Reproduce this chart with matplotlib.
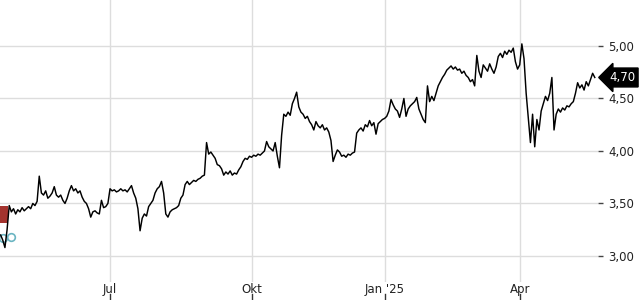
import matplotlib
matplotlib.use("Agg")
import matplotlib.pyplot as plt
from matplotlib.patches import Rectangle
from matplotlib.ticker import FuncFormatter

# daily closes, one list per quarter (trading days)
q2_2024 = [3.20, 3.15, 3.08, 3.25, 3.48, 3.42, 3.45, 3.40, 3.44, 3.42,
           3.46, 3.43, 3.45, 3.47, 3.45, 3.50, 3.48, 3.52, 3.76, 3.60,
           3.58, 3.62, 3.55, 3.57, 3.60, 3.66, 3.58, 3.56, 3.58, 3.53,
           3.50, 3.55, 3.62, 3.67, 3.62, 3.64, 3.60, 3.62, 3.56, 3.52,
           3.50, 3.45, 3.37, 3.42, 3.43, 3.41, 3.40, 3.53, 3.46, 3.47,
           3.50]
q3_2024 = [3.64, 3.62, 3.63, 3.61, 3.62, 3.64, 3.62, 3.63, 3.61, 3.64,
           3.67, 3.60, 3.55, 3.45, 3.24, 3.36, 3.40, 3.38, 3.47, 3.50,
           3.53, 3.60, 3.64, 3.66, 3.71, 3.60, 3.40, 3.37, 3.42, 3.44,
           3.45, 3.46, 3.48, 3.55, 3.58, 3.68, 3.71, 3.68, 3.70, 3.72,
           3.71, 3.73, 3.74, 3.76, 3.77, 4.08, 3.97, 3.99, 3.96, 3.93,
           3.87, 3.86, 3.83, 3.77, 3.80, 3.78, 3.81, 3.77, 3.79, 3.78,
           3.82, 3.85, 3.90, 3.93, 3.92, 3.95]
q4_2024 = [3.94, 3.96, 3.95, 3.97, 3.96, 3.98, 4.00, 4.09, 4.04, 4.02,
           4.00, 4.08, 3.95, 3.84, 4.15, 4.35, 4.33, 4.37, 4.34, 4.45,
           4.50, 4.56, 4.42, 4.37, 4.35, 4.31, 4.33, 4.28, 4.25, 4.20,
           4.28, 4.24, 4.22, 4.25, 4.20, 4.22, 4.18, 4.10, 3.90, 3.96,
           4.01, 3.99, 3.95, 3.96, 3.94, 3.97, 3.96, 3.98, 3.99, 4.17,
           4.20, 4.22, 4.19, 4.25, 4.23, 4.29, 4.24, 4.27, 4.16, 4.26,
           4.28, 4.30]
q1_2025 = [4.31, 4.33, 4.38, 4.49, 4.44, 4.40, 4.38, 4.32, 4.40, 4.50,
           4.33, 4.40, 4.43, 4.45, 4.47, 4.51, 4.40, 4.35, 4.30, 4.27,
           4.62, 4.47, 4.52, 4.48, 4.55, 4.62, 4.66, 4.70, 4.73, 4.77,
           4.79, 4.81, 4.78, 4.80, 4.77, 4.78, 4.74, 4.76, 4.72, 4.70,
           4.66, 4.68, 4.62, 4.91, 4.76, 4.70, 4.82, 4.79, 4.76, 4.83,
           4.78, 4.74, 4.80, 4.90, 4.93, 4.89, 4.95, 4.92, 4.96, 4.94,
           4.98, 4.85, 4.78]
q2_2025 = [4.82, 5.02, 4.88, 4.55, 4.32, 4.08, 4.35, 4.04, 4.30, 4.20,
           4.38, 4.45, 4.52, 4.48, 4.55, 4.70, 4.20, 4.35, 4.40, 4.37,
           4.41, 4.39, 4.43, 4.42, 4.45, 4.47, 4.55, 4.65, 4.60, 4.63,
           4.58, 4.66, 4.62, 4.68, 4.74, 4.70]

quarter_labels = ["Jul", "Okt", "Jan '25", "Apr"]
y_ticks = [3.0, 3.5, 4.0, 4.5, 5.0]
last_price = 4.70

# event markers at the start of the range
flag_span = (-0.3, 3.5, 3.31, 3.48)   # x0, x1, y0, y1
event_x = [0.9, 4.7]
event_y = [3.17, 3.18]

prices = q2_2024 + q3_2024 + q4_2024 + q1_2025 + q2_2025
xs = list(range(len(prices)))

tick_pos = []
n = 0
for q in [q2_2024, q3_2024, q4_2024, q1_2025]:
    n += len(q)
    tick_pos.append(n)

fig = plt.figure(figsize=(6.4, 3.0), dpi=100)
ax = fig.add_axes([0.0, 0.06, 598 / 640, 0.94])

ax.add_patch(Rectangle((flag_span[0], flag_span[2]), flag_span[1] - flag_span[0],
                       flag_span[3] - flag_span[2], facecolor="#a3332e", edgecolor="none", zorder=2))
ax.plot(event_x, event_y, "o", mfc="none", mec="#6bb5c2", ms=5.5, mew=1.2, zorder=2)
ax.plot(xs, prices, color="black", linewidth=1.05, zorder=3)

ax.set_xlim(-0.3, 278.5)
ax.set_ylim(2.752, 5.438)

ax.set_xticks(tick_pos)
ax.set_xticklabels(quarter_labels)
ax.set_yticks(y_ticks)
ax.yaxis.set_major_formatter(FuncFormatter(lambda v, p: f"{v:.2f}".replace(".", ",")))
ax.yaxis.tick_right()
ax.tick_params(axis="x", length=0, pad=1, labelsize=8.5, labelcolor="#222222")
ax.tick_params(axis="y", length=3.5, width=1, pad=4, color="#444444", labelsize=8.5, labelcolor="#222222")
ax.grid(True, color="#dddddd", linewidth=1)
ax.set_axisbelow(True)
for s in ax.spines.values():
    s.set_visible(False)

# small tick marks under the month labels
for t in tick_pos:
    ax.plot([t, t], [-0.044, -0.06], color="#333333", linewidth=1,
            transform=ax.get_xaxis_transform(), clip_on=False)

ax.text(1.0184, last_price, f"{last_price:.2f}".replace(".", ","), transform=ax.get_yaxis_transform(),
        ha="left", va="center", fontsize=8.5, color="white",
        bbox=dict(boxstyle="larrow,pad=0.25", facecolor="black", edgecolor="black"))

fig.savefig("out.png", dpi=100)
plt.close(fig)
